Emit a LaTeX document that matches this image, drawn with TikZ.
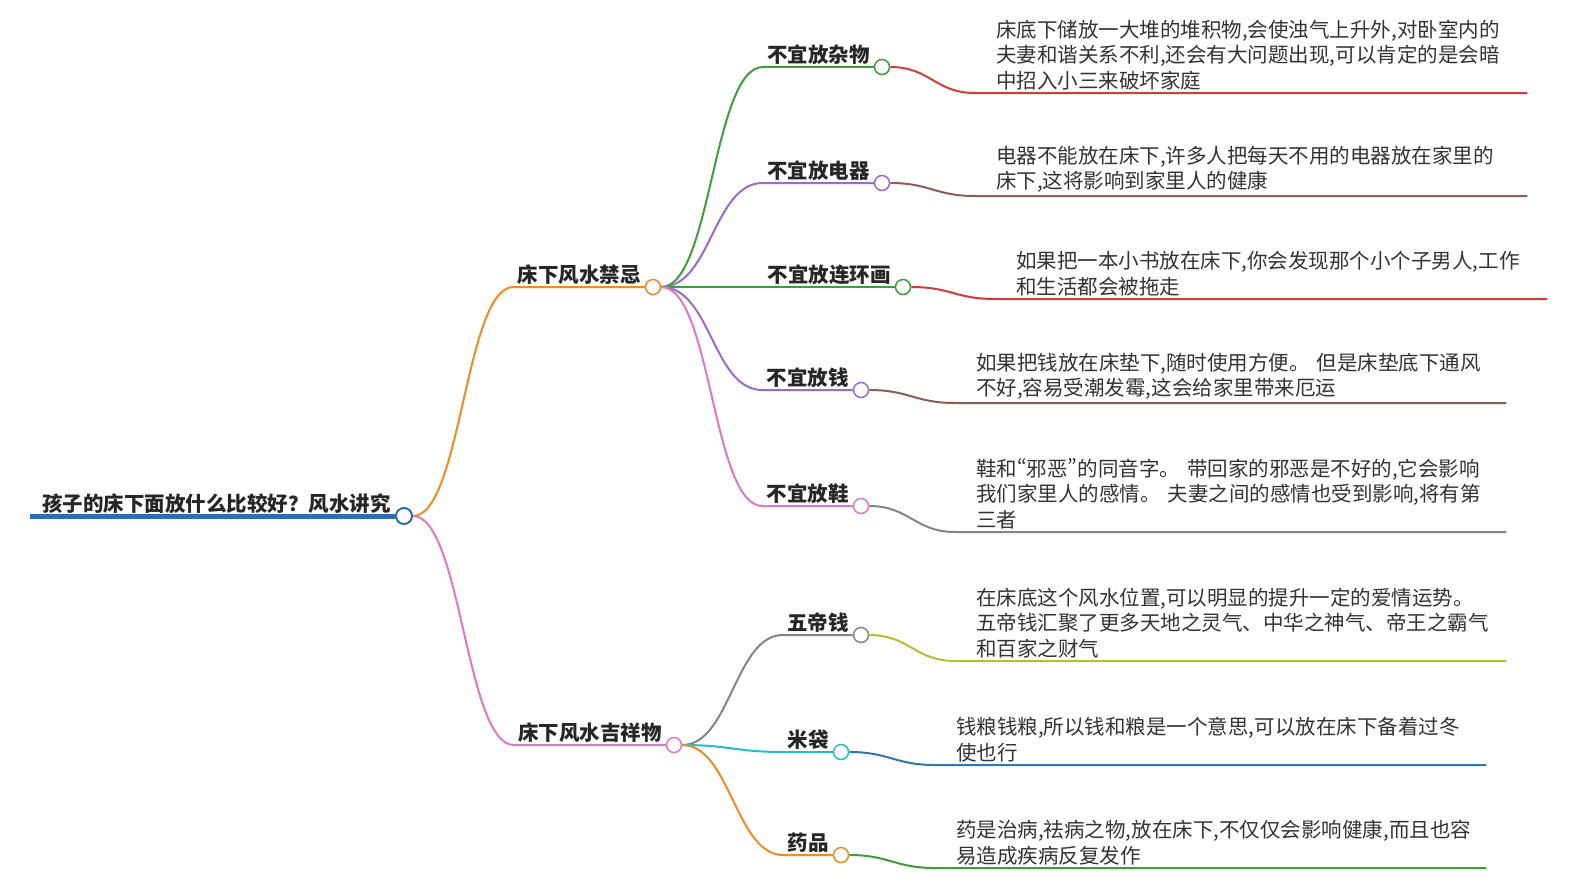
\documentclass[tikz,border=0pt]{standalone}
\usepackage{fontspec}
\setmainfont{Noto Sans CJK SC}
\usepackage{tikz}
\usetikzlibrary{positioning}
\definecolor{cRoot}{HTML}{2E6DB4}
\definecolor{cOrange}{HTML}{F08A24}
\definecolor{cPink}{HTML}{DE78C6}
\definecolor{cGreen}{HTML}{3C9F3C}
\definecolor{cPurple}{HTML}{9A6CC8}
\definecolor{cRed}{HTML}{D23C3C}
\definecolor{cBrown}{HTML}{8B5E55}
\definecolor{cGray}{HTML}{858585}
\definecolor{cOlive}{HTML}{B4C12C}
\definecolor{cCyan}{HTML}{26BCCE}
\definecolor{cBlue}{HTML}{2F78B6}
\newcommand{\mapfont}{\fontsize{20.5}{25.5}\selectfont}
\newcommand{\narrowq}[1]{{\addfontfeature{RawFeature=+pwid}#1}}
\tikzset{
  dot/.style={circle, draw, fill=white, line width=1.5pt, minimum size=15pt, inner sep=0pt},
  link/.style={line width=2pt},
  topic/.style={font=\mapfont\bfseries, text=black!85, inner xsep=4pt, inner ysep=2pt},
  leaf/.style={anchor=south west, align=left, font=\mapfont, text=black!80, inner xsep=21pt, inner ysep=3pt},
}

\begin{document}
\begin{tikzpicture}[x=1pt, y=-1pt]
  \fill[white] (0,0) rectangle (1579,883);
  \useasboundingbox (0,0) rectangle (1579,883);

  % root
  \node[dot, draw=cRoot, line width=2pt, minimum size=16pt] (root) at (404,516) {};
  \node[topic, above left] (rootlbl) at (root.west) {孩子的床下面放什么比较好？风水讲究};
  \coordinate (rootstart) at (30,516);
  \draw[cRoot, line width=5pt] (rootstart) -- (root.west);

  % main branches
  \node[dot, draw=cOrange] (jin) at (653,287) {};
  \node[topic, above left] (jinlbl) at (jin.west) {床下风水禁忌};
  \draw[link, cOrange] (root.east) .. controls +(48,0) and +(-48,0) .. (jinlbl.south west) -- (jin.west);

  \node[dot, draw=cPink] (ji) at (674,745) {};
  \node[topic, above left] (jilbl) at (ji.west) {床下风水吉祥物};
  \draw[link, cPink] (root.east) .. controls +(48,0) and +(-48,0) .. (jilbl.south west) -- (ji.west);

  % taboo items
  \node[dot, draw=cGreen] (za) at (882,67) {};
  \node[topic, above left] (zalbl) at (za.west) {不宜放杂物};
  \draw[link, cGreen] (jin.east) .. controls +(50,0) and +(-50,0) .. (zalbl.south west) -- (za.west);

  \node[dot, draw=cPurple] (dian) at (882,183) {};
  \node[topic, above left] (dianlbl) at (dian.west) {不宜放电器};
  \draw[link, cPurple] (jin.east) .. controls +(50,0) and +(-50,0) .. (dianlbl.south west) -- (dian.west);

  \node[dot, draw=cGreen] (lian) at (903,287) {};
  \node[topic, above left] (lianlbl) at (lian.west) {不宜放连环画};
  \draw[link, cGreen] (jin.east) -- (lian.west);

  \node[dot, draw=cPurple] (qian) at (861,390) {};
  \node[topic, above left] (qianlbl) at (qian.west) {不宜放钱};
  \draw[link, cPurple] (jin.east) .. controls +(50,0) and +(-50,0) .. (qianlbl.south west) -- (qian.west);

  \node[dot, draw=cPink] (xie) at (861,506) {};
  \node[topic, above left] (xielbl) at (xie.west) {不宜放鞋};
  \draw[link, cPink] (jin.east) .. controls +(50,0) and +(-50,0) .. (xielbl.south west) -- (xie.west);

  % lucky items
  \node[dot, draw=cGray] (wu) at (861,635) {};
  \node[topic, above left] (wulbl) at (wu.west) {五帝钱};
  \draw[link, cGray] (ji.east) .. controls +(48,0) and +(-48,0) .. (wulbl.south west) -- (wu.west);

  \node[dot, draw=cCyan] (mi) at (841,752) {};
  \node[topic, above left] (milbl) at (mi.west) {米袋};
  \draw[link, cCyan] (ji.east) .. controls +(48,0) and +(-48,0) .. (milbl.south west) -- (mi.west);

  \node[dot, draw=cOrange] (yao) at (841,855) {};
  \node[topic, above left] (yaolbl) at (yao.west) {药品};
  \draw[link, cOrange] (ji.east) .. controls +(48,0) and +(-48,0) .. (yaolbl.south west) -- (yao.west);

  % leaf texts
  \node[leaf, text width=510] (t1) at (975,93) {床底下储放一大堆的堆积物,会使浊气上升外,对卧室内的\\夫妻和谐关系不利,还会有大问题出现,可以肯定的是会暗\\中招入小三来破坏家庭};
  \draw[link, cRed] (za.east) .. controls +(40,0) and +(-40,0) .. (t1.south west) -- (t1.south east);

  \node[leaf, text width=510] (t2) at (975,196) {电器不能放在床下,许多人把每天不用的电器放在家里的\\床下,这将影响到家里人的健康};
  \draw[link, cBrown] (dian.east) .. controls +(40,0) and +(-40,0) .. (t2.south west) -- (t2.south east);

  \node[leaf, text width=510] (t3) at (995,299) {如果把一本小书放在床下,你会发现那个小个子男人,工作\\和生活都会被拖走};
  \draw[link, cRed] (lian.east) .. controls +(40,0) and +(-40,0) .. (t3.south west) -- (t3.south east);

  \node[leaf, text width=509] (t4) at (955,403) {如果把钱放在床垫下,随时使用方便。~但是床垫底下通风\\不好,容易受潮发霉,这会给家里带来厄运};
  \draw[link, cBrown] (qian.east) .. controls +(40,0) and +(-40,0) .. (t4.south west) -- (t4.south east);

  \node[leaf, text width=509] (t5) at (955,532) {鞋和\narrowq{“}邪恶\narrowq{”}的同音字。~带回家的邪恶是不好的,它会影响\\我们家里人的感情。~夫妻之间的感情也受到影响,将有第\\三者};
  \draw[link, cGray] (xie.east) .. controls +(40,0) and +(-40,0) .. (t5.south west) -- (t5.south east);

  \node[leaf, text width=509] (t6) at (955,661) {在床底这个风水位置,可以明显的提升一定的爱情运势。\\五帝钱汇聚了更多天地之灵气、中华之神气、帝王之霸气\\和百家之财气};
  \draw[link, cOlive] (wu.east) .. controls +(40,0) and +(-40,0) .. (t6.south west) -- (t6.south east);

  \node[leaf, text width=509] (t7) at (935,765) {钱粮钱粮,所以钱和粮是一个意思,可以放在床下备着过冬\\使也行};
  \draw[link, cBlue] (mi.east) .. controls +(40,0) and +(-40,0) .. (t7.south west) -- (t7.south east);

  \node[leaf, text width=509] (t8) at (935,868) {药是治病,祛病之物,放在床下,不仅仅会影响健康,而且也容\\易造成疾病反复发作};
  \draw[link, cGreen] (yao.east) .. controls +(40,0) and +(-40,0) .. (t8.south west) -- (t8.south east);
\end{tikzpicture}
\end{document}
